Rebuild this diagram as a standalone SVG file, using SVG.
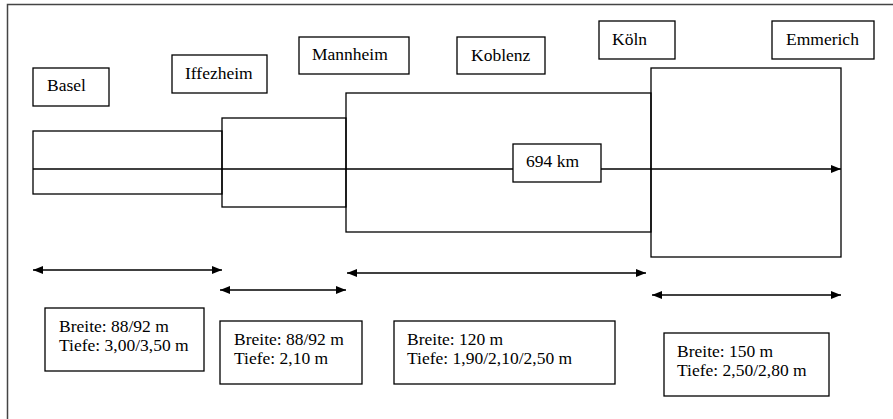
<svg xmlns="http://www.w3.org/2000/svg" width="893" height="419" viewBox="0 0 893 419">
<style>
.b{fill:#fff;stroke:#000;stroke-width:1.3}
.s{fill:none;stroke:#000;stroke-width:1.3}
.t{font-family:"Liberation Serif","Times New Roman",serif;font-size:17.5px;fill:#000}
.c{stroke:#000;stroke-width:1.6;fill:none}
</style>
<defs>
<marker id="ah" viewBox="0 0 10 8" refX="10" refY="4" markerWidth="10" markerHeight="8" markerUnits="userSpaceOnUse" orient="auto-start-reverse">
<path d="M0,0 L10,4 L0,8 Z" fill="#000"/>
</marker>
</defs>
<rect width="893" height="419" fill="#fff"/>
<path d="M7.5,419 V4.5 H893" fill="none" stroke="#444" stroke-width="1.5"/>
<g id="channel">
<rect id="seg1" class="s" x="33" y="131" width="189" height="63"/>
<rect id="seg2" class="s" x="222" y="118" width="124" height="89"/>
<rect id="seg3" class="s" x="346" y="93" width="305" height="139"/>
<rect id="seg4" class="s" x="651" y="68" width="190" height="189"/>
</g>
<g id="connectors">
<line class="c" x1="33" y1="169" x2="841" y2="169" marker-end="url(#ah)"/>
<line class="c" x1="33" y1="270" x2="222" y2="270" marker-start="url(#ah)" marker-end="url(#ah)"/>
<line class="c" x1="220" y1="290" x2="346" y2="290" marker-start="url(#ah)" marker-end="url(#ah)"/>
<line class="c" x1="347" y1="273" x2="646" y2="273" marker-start="url(#ah)" marker-end="url(#ah)"/>
<line class="c" x1="652" y1="295" x2="841" y2="295" marker-start="url(#ah)" marker-end="url(#ah)"/>
</g>
<g id="basel"><rect class="b" x="33" y="68" width="76" height="38"/><text class="t" x="47" y="91">Basel</text></g>
<g id="iffezheim"><rect class="b" x="172" y="55" width="95" height="38"/><text class="t" x="185" y="79">Iffezheim</text></g>
<g id="mannheim"><rect class="b" x="299" y="37" width="110" height="37"/><text class="t" x="312" y="60">Mannheim</text></g>
<g id="koblenz"><rect class="b" x="457" y="37" width="88" height="37"/><text class="t" x="471" y="61">Koblenz</text></g>
<g id="koeln"><rect class="b" x="599" y="21" width="76" height="38"/><text class="t" x="612" y="45">Köln</text></g>
<g id="emmerich"><rect class="b" x="772" y="21" width="102" height="38"/><text class="t" x="786" y="45">Emmerich</text></g>
<g id="km"><rect class="b" x="513" y="144" width="88" height="38"/><text class="t" x="526" y="167">694 km</text></g>
<g id="info1"><rect class="b" x="45" y="308" width="159" height="63"/><text class="t" x="59" y="332">Breite: 88/92 m</text><text class="t" x="59" y="351">Tiefe: 3,00/3,50 m</text></g>
<g id="info2"><rect class="b" x="220" y="321" width="142" height="63"/><text class="t" x="234" y="345">Breite: 88/92 m</text><text class="t" x="234" y="364">Tiefe: 2,10 m</text></g>
<g id="info3"><rect class="b" x="394" y="321" width="221" height="63"/><text class="t" x="407" y="345">Breite: 120 m</text><text class="t" x="407" y="364">Tiefe: 1,90/2,10/2,50 m</text></g>
<g id="info4"><rect class="b" x="664" y="333" width="165" height="63"/><text class="t" x="677" y="357">Breite: 150 m</text><text class="t" x="677" y="376">Tiefe: 2,50/2,80 m</text></g>
</svg>
